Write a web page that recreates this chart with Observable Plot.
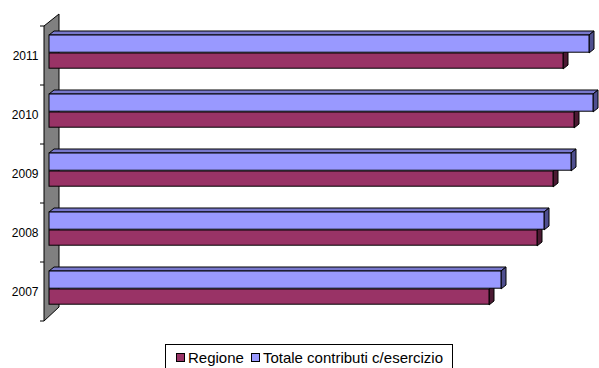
<!DOCTYPE html>
<html>
<head>
<meta charset="utf-8">
<script src="https://cdn.jsdelivr.net/npm/d3@7"></script>
<script src="https://cdn.jsdelivr.net/npm/@observablehq/plot@0.6"></script>
<style>
  body { margin: 0; background: #fff; font-family: Arial, "Liberation Sans", sans-serif; }
  #chart { position: relative; width: 599px; height: 368px; overflow: hidden; }
  .legend { position: absolute; left: 165px; top: 344px; width: 288px; height: 26px; border: 1px solid #000; box-sizing: border-box; font-size: 15px; color: #000; display: flex; align-items: center; padding-left: 10px; }
  .sw { display: inline-block; width: 7px; height: 7px; border: 1px solid #000; margin-right: 3px; }
  .item { display: flex; align-items: center; margin-right: 7px; white-space: nowrap; }
</style>
</head>
<body>
<div id="chart"></div>
<script>
const years = ["2011", "2010", "2009", "2008", "2007"];
const regione = [514, 525, 504, 488, 440];
const totale = [540, 544, 522, 495, 452];
const seriesNames = ["Regione", "Totale contributi c/esercizio"];
const colors = { front: ["#993366", "#9999FF"], top: ["#7A2850", "#7878CC"], side: ["#4C1A33", "#4F4F8F"] };

const data = [];
years.forEach((y, i) => {
  data.push({ year: y, series: seriesNames[0], value: regione[i] });
  data.push({ year: y, series: seriesNames[1], value: totale[i] });
});

const DX = 5, DY = -4;        // bar depth offset (px)
const WX = 15, WY = -12;      // wall depth offset (px)
const BLUE_TOP = 9, MID = 27, RED_BOTTOM = 43;

function poly(g, pts, fill) {
  g.append("polygon")
    .attr("points", pts.map(p => p.join(",")).join(" "))
    .attr("fill", fill).attr("stroke", "#000").attr("stroke-width", 1)
    .attr("stroke-linejoin", "miter");
}

const wallMark = (index, scales) => {
  const g = d3.create("svg:g");
  const x = scales.x, y = scales.y, bw = y.bandwidth();
  const x0 = x(0) - 5;
  const yTop = y(years[0]), yBot = y(years[years.length - 1]) + bw;
  poly(g, [[x0, yTop], [x0 + WX, yTop + WY], [x0 + WX, yBot + WY - 2], [x0, yBot]], "#808080");
  const bounds = years.map(v => y(v)).concat([yBot]);
  bounds.forEach(b => {
    g.append("line").attr("x1", x0 - 4).attr("x2", x0).attr("y1", b).attr("y2", b)
      .attr("stroke", "#000").attr("stroke-width", 1);
  });
  return g.node();
};

const sideMark = (which) => (index, scales) => {
  const g = d3.create("svg:g");
  const x = scales.x, y = scales.y;
  data.filter(d => d.series === seriesNames[which]).forEach(d => {
    const x0 = x(0), xv = x(d.value), yb = y(d.year);
    const t = yb + (which === 1 ? BLUE_TOP : MID);
    const b = yb + (which === 1 ? MID : RED_BOTTOM);
    if (which === 1) {
      poly(g, [[x0, t], [x0 + DX, t + DY], [xv + DX, t + DY], [xv, t]], colors.top[1]);
    }
    poly(g, [[xv, t], [xv + DX, t + DY], [xv + DX, b + DY], [xv, b]], colors.side[which]);
  });
  return g.node();
};

const chart = Plot.plot({
  width: 599,
  height: 340,
  marginLeft: 49,
  marginRight: 0,
  marginTop: 24,
  marginBottom: 17,
  style: { fontFamily: "Arial, 'Liberation Sans', sans-serif", fontSize: "12px", color: "#000", background: "transparent" },
  x: { domain: [0, 550], axis: null },
  y: { domain: years, padding: 0, tickSize: 0, tickPadding: 11, label: null },
  marks: [
    wallMark,
    sideMark(0),
    Plot.barX(data.filter(d => d.series === seriesNames[0]), {
      x: "value", y: "year", fill: colors.front[0], stroke: "#000", strokeWidth: 1,
      insetTop: MID, insetBottom: 59.8 - RED_BOTTOM
    }),
    sideMark(1),
    Plot.barX(data.filter(d => d.series === seriesNames[1]), {
      x: "value", y: "year", fill: colors.front[1], stroke: "#000", strokeWidth: 1,
      insetTop: BLUE_TOP, insetBottom: 59.8 - MID
    })
  ]
});

const root = document.getElementById("chart");
root.appendChild(chart);

const legend = document.createElement("div");
legend.className = "legend";
seriesNames.forEach((name, i) => {
  const item = document.createElement("span");
  item.className = "item";
  const sw = document.createElement("span");
  sw.className = "sw";
  sw.style.background = colors.front[i];
  item.appendChild(sw);
  item.appendChild(document.createTextNode(name));
  legend.appendChild(item);
});
root.appendChild(legend);
</script>
</body>
</html>
